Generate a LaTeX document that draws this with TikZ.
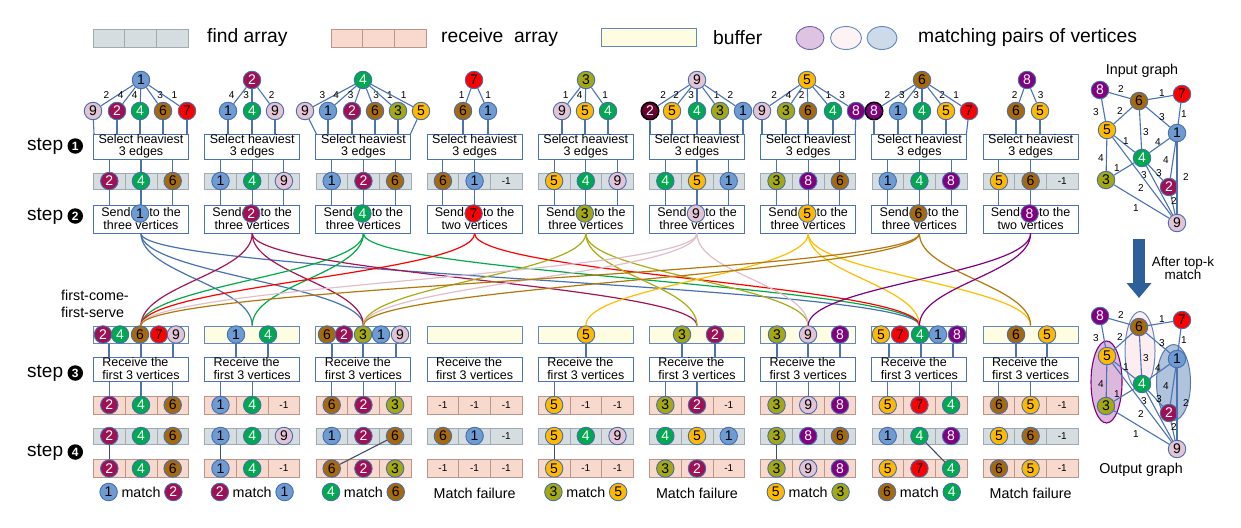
\documentclass[tikz,border=0pt]{standalone}
\usepackage{fontspec}
\setmainfont{Liberation Sans}
\usetikzlibrary{arrows.meta}

% vertex colours (fill / text)
\definecolor{vc1}{RGB}{110,155,210}\definecolor{vt1}{RGB}{0,0,0}
\definecolor{vc2}{RGB}{158,17,82}\definecolor{vt2}{RGB}{255,255,255}
\definecolor{vc3}{RGB}{163,168,20}\definecolor{vt3}{RGB}{0,0,0}
\definecolor{vc4}{RGB}{0,168,80}\definecolor{vt4}{RGB}{255,255,255}
\definecolor{vc5}{RGB}{255,186,0}\definecolor{vt5}{RGB}{0,0,0}
\definecolor{vc6}{RGB}{166,106,12}\definecolor{vt6}{RGB}{0,0,0}
\definecolor{vc7}{RGB}{255,0,0}\definecolor{vt7}{RGB}{0,0,0}
\definecolor{vc8}{RGB}{128,0,128}\definecolor{vt8}{RGB}{255,255,255}
\definecolor{vc9}{RGB}{226,196,212}\definecolor{vt9}{RGB}{0,0,0}
% curve colours
\definecolor{cc1}{RGB}{70,114,180}
\definecolor{cc2}{RGB}{165,20,85}
\definecolor{cc3}{RGB}{170,172,20}
\definecolor{cc4}{RGB}{0,170,70}
\definecolor{cc5}{RGB}{255,190,0}
\definecolor{cc6}{RGB}{180,120,10}
\definecolor{cc7}{RGB}{255,0,0}
\definecolor{cc8}{RGB}{128,0,128}
\definecolor{cc9}{RGB}{224,190,204}
% boxes and arrays
\definecolor{vborder}{RGB}{70,110,175}
\definecolor{boxline}{RGB}{75,115,180}
\definecolor{findfill}{RGB}{214,221,225}
\definecolor{findline}{RGB}{160,170,178}
\definecolor{recvfill}{RGB}{248,217,205}
\definecolor{recvline}{RGB}{185,150,140}
\definecolor{buffill}{RGB}{255,253,225}
\definecolor{bufline}{RGB}{100,135,190}
\definecolor{matchline}{RGB}{60,80,100}
\definecolor{arrowblue}{RGB}{45,95,155}
\definecolor{vdark}{RGB}{105,0,45}

\tikzset{
  vtx/.style={circle, draw=vborder, line width=0.9pt, minimum size=17.5pt, inner sep=0pt, font=\fontsize{14}{14}\selectfont},
  vx/.style={vtx, fill=vc#1, text=vt#1},
  hl/.style={draw=black, line width=1.5pt},
  hld/.style={hl, fill=vdark},
  nohl/.style={},
  opbox/.style={draw=boxline, fill=white, line width=0.9pt, minimum width=95pt, inner sep=0.5pt},
  findcell/.style={draw=findline, fill=findfill, line width=0.6pt, minimum width=31.7pt, minimum height=16pt, inner sep=0pt},
  recvcell/.style={draw=recvline, fill=recvfill, line width=0.6pt, minimum width=31.7pt, minimum height=18pt, inner sep=0pt},
  bufbox/.style={draw=bufline, fill=buffill, line width=1pt, minimum width=95pt, minimum height=17pt, inner sep=0pt},
  wire/.style={draw=boxline, line width=1.1pt},
  sendline/.style={line width=1.2pt},
  wlab/.style={font=\fontsize{10}{10}\selectfont, inner sep=0.5pt},
  nolab/.style={font=\fontsize{10}{10}\selectfont, inner sep=0pt},
  steplab/.style={font=\fontsize{19}{19}\selectfont, anchor=west, inner sep=0pt},
  stepnum/.style={circle, fill=black, text=white, minimum size=15.5pt, inner sep=0pt, font=\bfseries\fontsize{12}{12}\selectfont},
  bigtxt/.style={font=\fontsize{14.3}{16.5}\selectfont, inner sep=0pt},
  legtxt/.style={font=\fontsize{19.3}{20}\selectfont, anchor=west, inner sep=0pt},
}

% three cells of an array, filled with vertices or -1
\newcommand{\cellrow}[5]{% prefix, cell style, centre x, y, list
  \foreach \e [count=\i] in #5 {
    \node[#2] (#1c\i) at ({#3+(\i-2)*31.7},#4) {};
    \ifnum\e<0
      \node[nolab] (#1v\i) at (#1c\i) {-1};
    \else
      \node[vx=\e] (#1v\i) at (#1c\i) {\e};
    \fi
  }%
}

% the small weighted graph (input / output)
\newcommand{\topkgraph}[2]{% name prefix, shift down
  \begin{scope}[yshift=-#2pt]
    \foreach \v/\x/\y in {8/1100/90, 6/1139/101, 7/1182/94, 5/1107/130, 1/1177/133,
                          4/1142/158, 3/1106/180, 2/1169/187, 9/1177/223}
      \node[vx=\v] (#1\v) at (\x,\y) {\v};
    \foreach \a/\b/\w/\lx/\ly in {8/6/2/1121/89, 6/7/1/1162/93, 8/5/3/1096/112, 6/5/2/1120/111,
        6/1/3/1162/117, 7/1/1/1184/114, 6/4/3/1146/132, 5/4/1/1126/141, 1/4/4/1158/142,
        5/3/4/1101/158, 3/4/1/1117/168, 1/2/4/1166/160, 4/2/3/1159/173, 4/9/3/1144/175,
        5/9/2/1141/188, 1/9/2/1186/177, 2/9/2/1174/201, 3/9/1/1136/208} {
      \draw[wire] (#1\a) -- (#1\b);
      \node[wlab] (#1w\a\b) at (\lx,\ly) {\w};
    }
  \end{scope}%
}

\begin{document}
\begin{tikzpicture}[x=1pt,y=-1pt]

  \fill[white] (0,0) rectangle (1241,527);
  \useasboundingbox (0,0) rectangle (1241,527);

  % legend
  \foreach \i in {1,2,3} {
    \node[findcell, minimum height=18pt] (lgf\i) at ({93+31.7*(\i-0.5)},38) {};
    \node[recvcell] (lgr\i) at ({331+31.7*(\i-0.5)},38) {};
  }
  \node[legtxt] (lgftxt) at (207,38) {find array};
  \node[legtxt] (lgrtxt) at (441,38) {receive\ \ array};
  \node[bufbox, minimum height=18pt] (lgb) at (649,38) {};
  \node[legtxt] (lgbtxt) at (713,38) {buffer};
  \draw[fill={rgb,255:red,222;green,196;blue,226}, draw={rgb,255:red,110;green,100;blue,170}, line width=0.9pt] (810,38) ellipse [x radius=14pt, y radius=11.5pt];
  \draw[fill={rgb,255:red,253;green,243;blue,245}, draw=bufline, line width=0.9pt] (846,38) ellipse [x radius=15.5pt, y radius=11.5pt];
  \draw[fill={rgb,255:red,205;green,218;blue,234}, draw=bufline, line width=0.9pt] (882,38) ellipse [x radius=15pt, y radius=11.5pt];
  \node[legtxt] (lgetxt) at (918,38) {matching pairs of vertices};

  % step labels
  \foreach \s/\y in {1/146, 2/216, 3/373, 4/452} {
    \node[steplab] (st\s) at (27,\y) {step};
    \node[stepnum, anchor=west] (sn\s) at ([xshift=4pt]st\s.east) {\s};
  }

  % step 1: top-k trees and select boxes
  \foreach \n/\rv/\rx/\kids in {
      1/1/141/{9/93/2/nohl, 2/117/4/nohl, 4/140/4/nohl, 6/163/3/nohl, 7/187/1/nohl},
      2/2/252/{1/228/4/nohl, 4/252/3/nohl, 9/275/2/nohl},
      3/4/363/{9/305/3/nohl, 1/328/4/nohl, 2/352/3/nohl, 6/375/3/nohl, 3/398/1/nohl, 5/421/1/nohl},
      4/7/474/{6/463/1/nohl, 1/488/1/nohl},
      5/3/586/{9/562/1/nohl, 5/585/4/nohl, 4/608/1/nohl},
      6/9/697/{2/650/2/hld, 5/672/2/nohl, 4/697/3/nohl, 3/720/1/nohl, 1/743/2/nohl},
      7/5/807/{9/762/2/nohl, 3/786/4/nohl, 6/808/2/nohl, 4/833/1/nohl, 8/856/3/nohl},
      8/6/922/{8/874/2/hl, 1/898/3/nohl, 4/922/3/nohl, 5/946/2/nohl, 7/969/1/nohl},
      9/8/1027/{6/1016/2/nohl, 5/1040/3/nohl}} {
    \pgfmathsetmacro\cx{141+111.2*(\n-1)}
    \node[opbox, minimum height=25pt, align=center, font=\fontsize{12.5}{11.5}\selectfont] (sel\n) at (\cx,146.5) {Select heaviest\\3 edges};
    \node[vx=\rv] (r\n) at (\rx,80) {\rv};
    \foreach \v/\kx/\w/\hs [count=\i] in \kids {
      \node[vx=\v, \hs] (k\n-\i) at (\kx,111) {\v};
      \pgfmathsetmacro\sh{2+0.1*abs(\kx-\rx)}
      \ifdim\kx pt>\dimexpr\rx pt+2pt\relax
        \draw[wire] (r\n) -- node[wlab, anchor=west, xshift=\sh pt] {\w} (k\n-\i);
      \else
        \draw[wire] (r\n) -- node[wlab, anchor=east, xshift=-\sh pt] {\w} (k\n-\i);
      \fi
      \pgfmathsetmacro\lx{max(\cx-47,min(\cx+47,\kx))}
      \coordinate (kt\n-\i) at (\lx,134);
      \draw[wire] (k\n-\i) -- (kt\n-\i);
    }
  }

  % step 2: find arrays and send boxes (find array repeated in step 4)
  \foreach \n/\sv/\nw/\fnd in {1/1/three/{2,4,6}, 2/2/three/{1,4,9}, 3/4/three/{1,2,6},
      4/7/two/{6,1,-1}, 5/3/three/{5,4,9}, 6/9/three/{4,5,1}, 7/5/three/{3,8,6},
      8/6/three/{1,4,8}, 9/8/two/{5,6,-1}} {
    \pgfmathsetmacro\cx{141+111.2*(\n-1)}
    \cellrow{fa\n}{findcell}{\cx}{181}{\fnd}
    \cellrow{fb\n}{findcell}{\cx}{436}{\fnd}
    \node[opbox, minimum height=28pt, align=center, font=\fontsize{12.5}{13}\selectfont] (snd\n) at (\cx,219) {Send\hspace{19pt}to the\\\nw\ vertices};
    \node[vx=\sv] (sv\n) at (\cx-1,213.5) {\sv};
    \foreach \e [count=\i] in \fnd {
      \ifnum\e>0
        \draw[wire] (fa\n v\i |- sel\n.south) -- (fa\n v\i);
        \draw[wire] (fa\n v\i) -- (fa\n v\i |- snd\n.north);
      \fi
    }
  }

  % step 3: buffers, receive boxes and receive arrays (repeated in step 4)
  \foreach \n/\rcv in {1/{2,4,6}, 2/{1,4,-1}, 3/{6,2,3}, 4/{-1,-1,-1}, 5/{5,-1,-1},
      6/{3,2,-1}, 7/{3,9,8}, 8/{5,7,4}, 9/{6,5,-1}} {
    \pgfmathsetmacro\cx{141+111.2*(\n-1)}
    \node[bufbox] (buf\n) at (\cx,334.5) {};
    \node[opbox, minimum height=24pt, align=left, inner sep=0pt, font=\fontsize{12.5}{13}\selectfont] (rcv\n) at (\cx,369) {Receive the\\first 3 vertices};
    \cellrow{ra\n}{recvcell}{\cx}{405}{\rcv}
    \cellrow{rb\n}{recvcell}{\cx}{468.5}{\rcv}
    \foreach \e [count=\i] in \rcv {
      \ifnum\e>0
        \draw[wire] (ra\n v\i |- rcv\n.south) -- (ra\n v\i);
      \fi
    }
  }

  % buffer contents, first-come-first-serve
  \foreach \n/\bl in {1/{2/103,4/120,6/140,7/159,9/176}, 2/{1/236,4/268},
      3/{6/327,2/344,3/363,1/381,9/400}, 5/{5/586}, 6/{3/682,2/715},
      7/{3/777,9/808,8/840}, 8/{5/881,7/900,4/920,1/938,8/957}, 9/{6/1016,5/1047}} {
    \foreach \v/\x [count=\i] in \bl
      \node[vx=\v] (b\n-\i) at (\x,334.5) {\v};
  }
  \foreach \n/\up in {1/{109,141,173}, 2/{236,268}, 3/{332,363,396}, 5/{586},
      6/{682,715}, 7/{777,808,840}, 8/{889,921,953}, 9/{1016,1047}} {
    \foreach \x in \up
      \draw[wire] (\x,0 |- buf\n.south) -- (\x,0 |- rcv\n.north);
  }
  \node[bigtxt, align=left, anchor=west] (fcfs) at (61,304) {first-come-\\first-serve};

  % sending vertices to the buffers
  \foreach \s/\t/\col in {1/2/cc1, 1/3/cc1, 1/8/cc1, 2/1/cc2, 2/3/cc2, 2/6/cc2,
      3/1/cc4, 3/2/cc4, 3/8/cc4, 4/8/cc7, 4/1/cc7, 5/6/cc3, 5/7/cc3, 5/3/cc3,
      6/3/cc9, 6/7/cc9, 6/1/cc9, 7/5/cc5, 7/9/cc5, 7/8/cc5, 8/1/cc6, 8/3/cc6,
      8/9/cc6, 9/8/cc8, 9/7/cc8}
    \draw[sendline, \col] (snd\s.south) .. controls +(0,40) and +(0,-40) .. (buf\t.north);

  % step 4: matches
  \foreach \n/\a/\b in {1/1/1, 2/1/1, 3/3/1, 5/1/1, 7/1/1, 8/2/3}
    \draw[matchline, line width=1.1pt] (fb\n v\a) -- (rb\n v\b);
  \foreach \n/\a/\b in {1/1/2, 2/2/1, 3/4/6, 5/3/5, 7/5/3, 8/6/4} {
    \pgfmathsetmacro\cx{141+111.2*(\n-1)}
    \node[bigtxt, inner sep=3.5pt] (mt\n) at (\cx,492) {match};
    \node[vx=\a, anchor=east] (ma\n) at (mt\n.west) {\a};
    \node[vx=\b, anchor=west] (mb\n) at (mt\n.east) {\b};
  }
  \foreach \n in {4,6,9} {
    \pgfmathsetmacro\cx{141+111.2*(\n-1)}
    \node[bigtxt] (mf\n) at (\cx,493) {Match failure};
  }

  % input graph, arrow, output graph
  \node[bigtxt] (intitle) at (1142,71) {Input graph};
  \topkgraph{in}{0}
  \coordinate (atop) at (1139,239);
  \coordinate (abot) at (1139,298);
  \draw[arrowblue, line width=12pt, -{Triangle[width=24pt,length=15pt]}] (atop) -- (abot);
  \node[bigtxt, align=center, font=\fontsize{13.5}{13}\selectfont] (atxt) at (1183,268) {After top-k\\match};
  \draw[fill={rgb,255:red,220;green,185;blue,220}, draw=vc8, line width=1.1pt] (1106.5,382) ellipse [x radius=15.5pt, y radius=41pt];
  \draw[fill={rgb,255:red,252;green,238;blue,240}, draw=bufline, line width=1pt] (1140,351) ellipse [x radius=15pt, y radius=39.5pt];
  \draw[fill={rgb,255:red,175;green,195;blue,220}, draw={rgb,255:red,90;green,120;blue,170}, line width=1pt] (1173.5,382.5) ellipse [x radius=17pt, y radius=38pt];
  \topkgraph{out}{226}
  \node[bigtxt] (outtitle) at (1141,470) {Output graph};

\end{tikzpicture}
\end{document}
